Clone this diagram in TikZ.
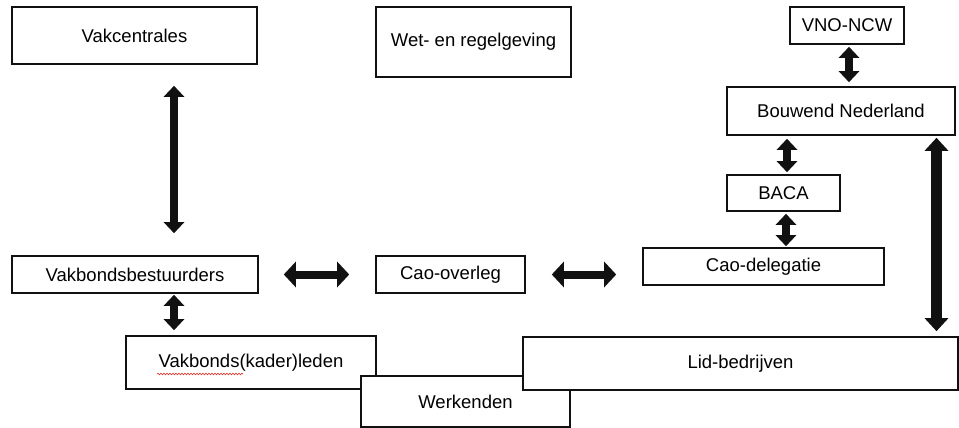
\documentclass[tikz,border=0pt]{standalone}
\usepackage{fontspec}
\setmainfont{Liberation Sans}
\usepackage{xcolor}
\usepackage{tikz}
\usetikzlibrary{calc,arrows.meta,positioning,decorations.pathmorphing}
\definecolor{inkc}{HTML}{111111}
\definecolor{spellc}{HTML}{E0302A}
\tikzset{
  box/.style={draw=inkc,line width=1.6pt,fill=white,align=center,inner sep=0pt,font=\fontsize{18.5}{22}\selectfont},
  dar/.style={{Triangle[width=20pt,length=11pt]}-{Triangle[width=20pt,length=11pt]},line width=8.5pt,inkc},
  har/.style={{Triangle[width=25pt,length=12pt]}-{Triangle[width=25pt,length=12pt]},line width=8pt,inkc},
  bigar/.style={{Triangle[width=23pt,length=13pt]}-{Triangle[width=23pt,length=13pt]},line width=11pt,inkc},
  spell/.style={spellc,line width=0.6pt,decorate,decoration={snake,segment length=3pt,amplitude=0.8pt}}
}
\begin{document}
\begin{tikzpicture}[x=1pt,y=-1pt]
\useasboundingbox (0,0) rectangle (959,428);
\node[box,minimum width=245pt,minimum height=57pt] (vakc) at (134.5,35.5) {Vakcentrales};
\node[box,minimum width=195pt,minimum height=70pt] (wet) at (473.5,42) {Wet- en regelgeving};
\node[box,minimum width=114pt,minimum height=37pt] (vno) at (847,25.5) {VNO-NCW};
\node[box,minimum width=228pt,minimum height=48pt] (bouwend) at (841,111) {Bouwend Nederland};
\node[box,minimum width=113pt,minimum height=36pt] (baca) at (783.5,193) {BACA};
\node[box,minimum width=241pt,minimum height=37pt] (caodel) at (763.5,266.5) {Cao-delegatie};
\node[box,minimum width=246pt,minimum height=37pt] (bestuur) at (135,274.5) {Vakbondsbestuurders};
\node[box,minimum width=149pt,minimum height=37pt] (overleg) at (450.5,274.5) {Cao-overleg};
\node[box,minimum width=250pt,minimum height=53pt] (kader) at (251,362.5) {Vakbonds(kader)leden};
\node[box,minimum width=209pt,minimum height=51pt] (werk) at (465.5,401.5) {Werkenden};
\node[box,minimum width=435pt,minimum height=53pt] (lid) at (740.5,363.5) {Lid-bedrijven};
\draw[spell] ([shift={(-94,11.5)}]kader.center) -- ([shift={(-8,11.5)}]kader.center);
\coordinate (p1) at ([xshift=39.5pt]vakc.south);
\coordinate (p2) at ([xshift=39pt]bestuur.south);
\coordinate (p3) at ([xshift=2pt]vno.south);
\coordinate (p4) at ([xshift=3.5pt]baca.north);
\coordinate (p5) at ([xshift=2.5pt]baca.south);
\coordinate (p6) at ([xshift=95.5pt]bouwend.south);
\draw[dar,shorten <=21pt,shorten >=22pt] (p1) -- (p1 |- bestuur.north);
\draw[dar,shorten <=1pt,shorten >=5pt] (p2) -- (p2 |- kader.north);
\draw[har,shorten <=25pt,shorten >=26pt] (bestuur.east) -- (overleg.west);
\draw[har,shorten <=26pt,shorten >=26pt] (overleg.east) -- (overleg.east -| caodel.west);
\draw[dar,shorten <=2pt,shorten >=4pt] (p3) -- (p3 |- bouwend.north);
\draw[dar,shorten <=3pt,shorten >=2pt] (p4 |- bouwend.south) -- (p4);
\draw[dar,shorten <=2pt,shorten >=1pt] (p5) -- (p5 |- caodel.north);
\draw[bigar,shorten <=2pt,shorten >=5pt] (p6) -- (p6 |- lid.north);
\end{tikzpicture}
\end{document}
